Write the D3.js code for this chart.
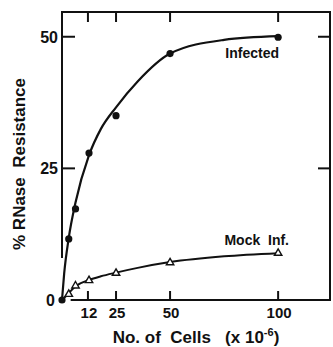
<!DOCTYPE html>
<html>
<head>
<meta charset="utf-8">
<script src="https://cdn.jsdelivr.net/npm/d3@7"></script>
<style>
  body { margin: 0; background: #fff; }
  svg { display: block; }
  text { font-family: "Liberation Sans", Arial, sans-serif; font-weight: bold; fill: #111; }
</style>
</head>
<body>
<div id="chart"></div>
<script>
// cell numbers (x 10^6), serial two-fold dilutions
var cells = [0, 3.125, 6.25, 12.5, 25, 50, 100];
var infected = [0, 11.6, 17.3, 27.9, 35.0, 46.8, 49.9];
var mock = [0, 1.1, 2.7, 3.7, 5.1, 7.1, 8.9];

// hand-drawn fitted curves
var fitCells = [0, 1, 3.125, 6.25, 12.5, 18, 25, 35, 50, 75, 100];
var infectedFit = [0, 5, 11.8, 18.5, 27.5, 32.5, 36.6, 41.5, 46.8, 49.4, 50.1];
var mockFit = [0, 0.4, 1.3, 2.6, 3.8, 4.5, 5.2, 6.1, 7.2, 8.3, 8.9];

var xTicks = [12, 25, 50, 100];
var yTicks = [0, 25, 50];

var W = 333, H = 347;
var plotLeft = 62, plotRight = 330, plotTop = 12, plotBottom = 300;

var x = d3.scaleLinear().domain([0, 124]).range([plotLeft, plotRight]);
var y = d3.scaleLinear().domain([0, 54.7]).range([plotBottom, plotTop]);

var svg = d3.select("#chart").append("svg")
  .attr("width", W)
  .attr("height", H);

// frame (left side breaks near the origin like in the figure)
var frame = svg.append("g")
  .attr("stroke", "#111")
  .attr("stroke-width", 2)
  .attr("fill", "none");
frame.append("path")
  .attr("d", "M" + plotLeft + "," + y(8) + "V" + plotTop + "H" + plotRight + "V" + plotBottom + "H" + x(4));

// inward ticks on all four sides
xTicks.forEach(function(t) {
  frame.append("line").attr("x1", x(t)).attr("x2", x(t)).attr("y1", plotBottom).attr("y2", plotBottom - 9);
  frame.append("line").attr("x1", x(t)).attr("x2", x(t)).attr("y1", plotTop).attr("y2", plotTop + 10);
});
yTicks.filter(function(t) { return t > 0; }).forEach(function(t) {
  frame.append("line").attr("x1", plotLeft).attr("x2", plotLeft + 13).attr("y1", y(t)).attr("y2", y(t));
  frame.append("line").attr("x1", plotRight).attr("x2", plotRight - 12).attr("y1", y(t)).attr("y2", y(t));
});

// tick labels
svg.selectAll(".xl").data(xTicks).enter().append("text")
  .attr("x", function(d) { return x(d) + 1; })
  .attr("y", 318)
  .attr("text-anchor", "middle")
  .attr("font-size", 15)
  .text(function(d) { return d; });

svg.selectAll(".yl").data(yTicks).enter().append("text")
  .attr("x", function(d) { return d === 0 ? 55 : 58; })
  .attr("y", function(d) { return y(d) + 6; })
  .attr("text-anchor", "end")
  .attr("font-size", 16)
  .text(function(d) { return d; });

// axis titles
svg.append("text")
  .attr("transform", "translate(25,164) rotate(-90)")
  .attr("text-anchor", "middle")
  .attr("font-size", 17)
  .attr("xml:space", "preserve")
  .text("% RNase  Resistance");

var xt = svg.append("text")
  .attr("x", 196)
  .attr("y", 343)
  .attr("text-anchor", "middle")
  .attr("font-size", 17)
  .attr("xml:space", "preserve");
xt.append("tspan").text("No. of  Cells   (x 10");
xt.append("tspan").attr("font-size", 11).attr("dy", -7).text("-6");
xt.append("tspan").attr("dy", 7).text(")");

// curves
var line = d3.line()
  .x(function(d) { return x(d[0]); })
  .y(function(d) { return y(d[1]); })
  .curve(d3.curveMonotoneX);

svg.append("path")
  .datum(d3.zip(fitCells, infectedFit))
  .attr("d", line)
  .attr("fill", "none")
  .attr("stroke", "#111")
  .attr("stroke-width", 2.2);

svg.append("path")
  .datum(d3.zip(fitCells, mockFit))
  .attr("d", line)
  .attr("fill", "none")
  .attr("stroke", "#111")
  .attr("stroke-width", 2);

// markers
var tri = d3.symbol().type(d3.symbolTriangle).size(24);
svg.selectAll(".tri").data(d3.zip(cells, mock).slice(1)).enter().append("path")
  .attr("transform", function(d) { return "translate(" + x(d[0]) + "," + y(d[1]) + ")"; })
  .attr("d", tri)
  .attr("fill", "#fff")
  .attr("stroke", "#111")
  .attr("stroke-width", 1.4);

svg.selectAll(".dot").data(d3.zip(cells, infected)).enter().append("circle")
  .attr("cx", function(d) { return x(d[0]); })
  .attr("cy", function(d) { return y(d[1]); })
  .attr("r", 3.6)
  .attr("fill", "#111");

// series labels
svg.append("text")
  .attr("x", 279).attr("y", 58)
  .attr("text-anchor", "end")
  .attr("font-size", 14)
  .text("Infected");

svg.append("text")
  .attr("x", 289).attr("y", 245)
  .attr("text-anchor", "end")
  .attr("font-size", 14)
  .attr("xml:space", "preserve")
  .text("Mock  Inf.");
</script>
</body>
</html>
